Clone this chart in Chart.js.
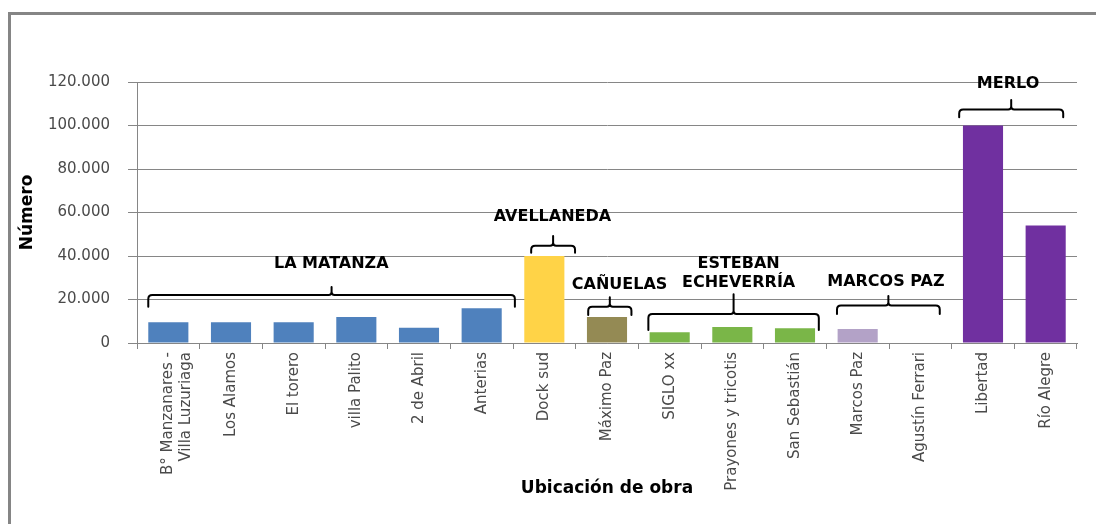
<!DOCTYPE html>
<html lang="es">
<head>
<meta charset="utf-8">
<script src="https://cdn.jsdelivr.net/npm/chart.js@4.4.1/dist/chart.umd.min.js"></script>
<style>
  html, body { margin: 0; padding: 0; background: #fff; }
</style>
</head>
<body>
<canvas id="grafico" width="1096" height="524"></canvas>
<script>
// datos del gráfico
const ubicaciones = [
  ['B° Manzanares -', 'Villa Luzuriaga'], 'Los Alamos', 'El torero', 'villa Palito', '2 de Abril', 'Anterias',
  'Dock sud', 'Máximo Paz', 'SIGLO xx', 'Prayones y tricotis', 'San Sebastián',
  'Marcos Paz', 'Agustín Ferrari', 'Libertad', 'Río Alegre'
];
const cantidades = [9500, 9500, 9500, 12000, 7000, 16000, 40000, 12000, 5000, 7300, 6800, 6400, 0, 100000, 54000];
const maxEjeY = 120000;
const pasoEjeY = 20000;

// partidos (llaves sobre las barras)
const partidos = [['LA MATANZA'], ['AVELLANEDA'], ['CAÑUELAS'], ['ESTEBAN', 'ECHEVERRÍA'], ['MARCOS PAZ'], ['MERLO']];

// colores por barra
const azul = '#4f81bd', amarillo = '#ffd347', oliva = '#948a54', verde = '#7ab648', lila = '#b3a2c7', violeta = '#7030a0';
const coloresBarras = [azul, azul, azul, azul, azul, azul, amarillo, oliva, verde, verde, verde, lila, lila, violeta, violeta];

// dónde va cada llave (en unidades de los ejes)
const llaves = [
  { desde: -0.32, hasta: 5.53, linea: 22070, puntas: 16700, pico: 25750, textoX: 2.6, textoY: [36300] },
  { desde: 5.79, hasta: 6.49, linea: 44700, puntas: 41500, pico: 49200, textoX: 6.13, textoY: [57900] },
  { desde: 6.70, hasta: 7.39, linea: 16700, puntas: 12900, pico: 21000, textoX: 7.2, textoY: [26700] },
  { desde: 7.66, hasta: 10.38, linea: 13300, puntas: 6000, pico: 22400, textoX: 9.1, textoY: [36600, 27700] },
  { desde: 10.67, hasta: 12.31, linea: 17200, puntas: 13300, pico: 21600, textoX: 11.45, textoY: [28200] },
  { desde: 12.62, hasta: 14.28, linea: 107400, puntas: 103800, pico: 111700, textoX: 13.4, textoY: [119100] }
];

const gris = '#868686';
const textoGris = '#4a4a4a';

function conPuntos(v) {
  return String(v).replace(/\B(?=(\d{3})+(?!\d))/g, '.');
}

// marco gris arriba y a la izquierda
const marcoPlugin = {
  id: 'marco',
  beforeDraw(chart) {
    const ctx = chart.ctx;
    ctx.save();
    ctx.fillStyle = '#fff';
    ctx.fillRect(0, 0, chart.width, chart.height);
    ctx.strokeStyle = '#858585';
    ctx.lineWidth = 3;
    ctx.beginPath();
    ctx.moveTo(9.5, chart.height);
    ctx.lineTo(9.5, 13.5);
    ctx.lineTo(chart.width, 13.5);
    ctx.stroke();
    ctx.restore();
  }
};

// llaves y nombres de partidos
const llavesPlugin = {
  id: 'llaves',
  afterDatasetsDraw(chart) {
    const { ctx, scales: { x, y } } = chart;
    ctx.save();
    ctx.strokeStyle = '#000';
    ctx.lineWidth = 2;
    ctx.lineJoin = 'round';
    ctx.lineCap = 'round';
    llaves.forEach((g, i) => {
      const x1 = x.getPixelForValue(g.desde);
      const x2 = x.getPixelForValue(g.hasta);
      const xm = (x1 + x2) / 2;
      const yl = y.getPixelForValue(g.linea);
      const yp = y.getPixelForValue(g.puntas);
      const yc = y.getPixelForValue(g.pico);
      const r = 4;
      ctx.beginPath();
      ctx.moveTo(x1, yp);
      ctx.lineTo(x1, yl + r);
      ctx.quadraticCurveTo(x1, yl, x1 + r, yl);
      ctx.lineTo(xm - 3, yl);
      ctx.quadraticCurveTo(xm, yl, xm, yl - 3);
      ctx.lineTo(xm, yc);
      ctx.moveTo(xm, yl - 3);
      ctx.quadraticCurveTo(xm, yl, xm + 3, yl);
      ctx.lineTo(x2 - r, yl);
      ctx.quadraticCurveTo(x2, yl, x2, yl + r);
      ctx.lineTo(x2, yp);
      ctx.stroke();

      ctx.fillStyle = '#000';
      ctx.font = 'bold 16px "DejaVu Sans"';
      ctx.textAlign = 'center';
      ctx.textBaseline = 'middle';
      partidos[i].forEach((t, j) => {
        ctx.fillText(t, x.getPixelForValue(g.textoX), y.getPixelForValue(g.textoY[j]));
      });
    });
    ctx.restore();
  }
};

new Chart(document.getElementById('grafico'), {
  type: 'bar',
  data: {
    labels: ubicaciones,
    datasets: [{
      label: 'Número',
      data: cantidades,
      backgroundColor: coloresBarras,
      borderWidth: 0,
      barPercentage: 0.64,
      categoryPercentage: 1
    }]
  },
  options: {
    responsive: false,
    animation: false,
    layout: { padding: { left: 10, right: 19, top: 82, bottom: 20 } },
    plugins: {
      legend: { display: false },
      tooltip: { enabled: false }
    },
    scales: {
      x: {
        afterFit: s => { s.height = 161; },
        grid: { drawOnChartArea: false, color: gris, tickLength: 6 },
        border: { color: gris },
        ticks: {
          autoSkip: false, maxRotation: 90, minRotation: 90, padding: 3,
          color: textoGris, font: { family: '"DejaVu Sans"', size: 15 }
        },
        title: {
          display: true, text: 'Ubicación de obra', color: '#000',
          font: { family: '"DejaVu Sans"', size: 17, weight: 'bold' },
          padding: { top: 0, bottom: 5 }
        }
      },
      y: {
        min: 0, max: maxEjeY,
        afterFit: s => { s.width = 127; },
        grid: { color: gris, tickLength: 9 },
        border: { color: gris },
        ticks: {
          stepSize: pasoEjeY, padding: 18, color: textoGris,
          font: { family: '"DejaVu Sans"', size: 15 },
          callback: v => conPuntos(v)
        },
        title: {
          display: true, text: 'Número', color: '#000',
          font: { family: '"DejaVu Sans"', size: 17, weight: 'bold' },
          padding: { top: 7, bottom: 0 }
        }
      }
    }
  },
  plugins: [marcoPlugin, llavesPlugin]
});
</script>
</body>
</html>
